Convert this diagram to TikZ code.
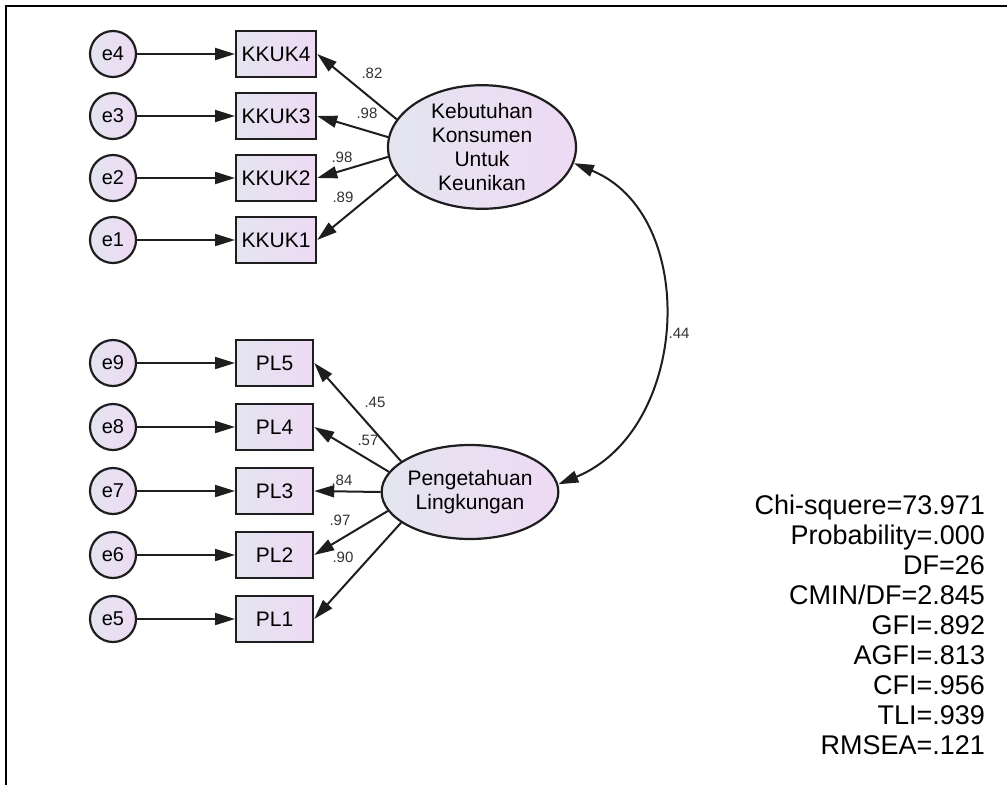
\documentclass[tikz,border=0pt]{standalone}
\usepackage{fontspec}
\setmainfont{Liberation Sans}
\usetikzlibrary{arrows.meta,shapes.geometric}
\definecolor{fillleft}{RGB}{228,229,241}
\definecolor{fillright}{RGB}{238,218,243}
\definecolor{linecol}{RGB}{30,30,30}
\definecolor{coefcol}{RGB}{50,50,50}

\begin{document}
\begin{tikzpicture}[x=1pt,y=-1pt,line width=2pt]
  \tikzstyle{err}=[circle,draw=linecol,line width=2.2pt,left color=fillleft,right color=fillright,minimum size=46pt,inner sep=0pt,font=\fontsize{20}{24}\selectfont]
  \tikzstyle{obs}=[rectangle,draw=linecol,line width=2.2pt,left color=fillleft,right color=fillright,minimum height=46pt,inner sep=2pt,anchor=west,font=\fontsize{21}{24}\selectfont]
  \tikzstyle{lat}=[ellipse,draw=linecol,line width=2.2pt,left color=fillleft,right color=fillright,inner sep=0pt,align=center,font=\fontsize{21}{24}\selectfont]
  \tikzstyle{arr}=[-{Triangle[length=20pt,width=12pt]},draw=linecol]
  \tikzstyle{coef}=[text=coefcol,font=\fontsize{15}{16}\selectfont,inner sep=0pt]
  \tikzstyle{stat}=[anchor=base east,font=\fontsize{27}{30}\selectfont,inner sep=0pt]

  \useasboundingbox (0,0) rectangle (1007,785);
  \draw[line width=2.4pt] (1007,6) -- (6,6) -- (6,785);

  % latent variables
  \node[lat,minimum width=188pt,minimum height=120pt] (kku) at (482,147) {Kebutuhan\\Konsumen\\Untuk\\Keunikan};
  \node[lat,minimum width=156pt,minimum height=94pt] (plv) at (470,492) {Pengetahuan\\Lingkungan};

  % KKUK indicators
  \foreach \i/\y/\a/\lam/\lx/\ly in {4/54/162/.82/372/73, 3/116/174/.98/367/113, 2/178/186/.98/342/157, 1/240/198/.89/343/197}{
    \node[err] (e\i) at (113,\y) {e\i};
    \node[obs,minimum width=80pt] (kkuk\i) at (235,\y) {KKUK\i};
    \draw[arr] (e\i) -- (kkuk\i);
    \draw[arr] (kku.\a) -- (kkuk\i.east);
    \node[coef] (lk\i) at (\lx,\ly) {\lam};
  }

  % PL indicators
  \foreach \i/\j/\y/\a/\lam/\lx/\ly in {5/9/363/156/.45/375/402, 4/8/427/166/.57/368/440, 3/7/491/180/.84/342/480, 2/6/555/193/.97/340/520, 1/5/619/204/.90/343/557}{
    \node[err] (e\j) at (113,\y) {e\j};
    \node[obs,minimum width=77pt] (pl\i) at (235,\y) {PL\i};
    \draw[arr] (e\j) -- (pl\i);
    \draw[arr] (plv.\a) -- (pl\i.east);
    \node[coef] (lp\i) at (\lx,\ly) {\lam};
  }

  % covariance
  \draw[{Triangle[length=20pt,width=12pt]}-{Triangle[length=20pt,width=12pt]},draw=linecol] (kku.-10) .. controls (700,215) and (690,430) .. (plv.5);
  \node[coef] (cov) at (679,333) {.44};

  % fit indices
  \foreach \t [count=\k from 0] in {Chi-squere=73.971, Probability=.000, DF=26, {CMIN/DF=2.845}, GFI=.892, AGFI=.813, CFI=.956, TLI=.939, RMSEA=.121}{
    \node[stat] (fit\k) at (986,{514+30*\k}) {\t};
  }
\end{tikzpicture}
\end{document}
